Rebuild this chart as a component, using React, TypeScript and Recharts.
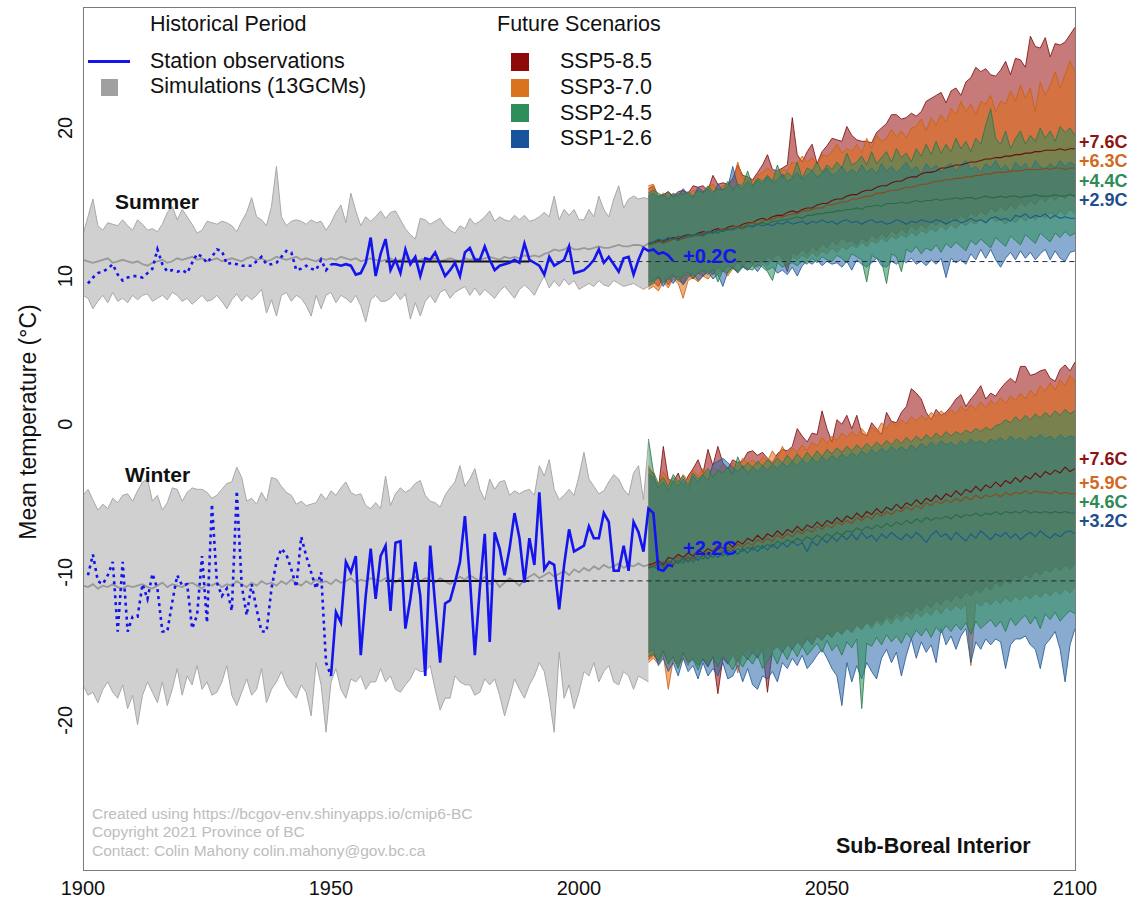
import React from 'react';
import { ComposedChart, Area, Line, XAxis, YAxis } from 'recharts';

const HIST_START = 1900;
const OBS_START = 1901;
const FUT_START = 2014;
const OBS_SOLID_FROM = 1950;
const NORMAL_FROM = 1961;
const NORMAL_TO = 1990;
const SUMMER_NORMAL = 10.98;
const WINTER_NORMAL = -10.58;

const X_TICKS = [1900, 1950, 2000, 2050, 2100];
const Y_TICKS = [-20, -10, 0, 10, 20];

// ---------- historical simulations, 1900-2014 ----------
const SUMMER_SIM_UPPER = [
  12.8, 14.0, 15.2, 13.4, 13.1, 13.6, 13.5, 13.4, 13.8, 13.4,
  13.1, 13.8, 13.5, 13.1, 13.2, 13.0, 13.5, 14.3, 14.7, 13.8,
  14.5, 14.0, 13.5, 12.9, 13.1, 13.7, 13.6, 13.5, 13.7, 13.6,
  13.4, 13.0, 13.7, 14.3, 15.3, 14.0, 13.8, 13.4, 14.7, 17.4,
  14.0, 13.4, 13.7, 13.8, 13.7, 13.5, 13.8, 13.6, 13.7, 13.1,
  13.6, 14.3, 14.8, 13.6, 15.6, 14.4, 13.4, 14.0, 13.7, 14.0,
  14.4,
  13.9, 14.3, 14.4, 13.8, 13.2, 12.8, 12.5, 13.9, 13.8, 13.5,
  13.7, 13.9, 13.4, 13.1, 12.9, 13.4, 13.2, 13.9, 13.5, 13.7,
  14.0, 14.4, 13.7, 14.0, 13.8, 13.7, 14.1, 13.8, 14.1, 13.7,
  13.8, 14.0, 14.3, 14.0, 15.4, 13.8, 14.5, 14.1, 14.5, 13.8,
  13.8, 14.5, 14.0, 15.4, 14.5, 14.0, 15.2, 16.1, 14.6, 15.2,
  15.4, 15.2, 15.3, 15.2,
];
const SUMMER_SIM_LOWER = [
  8.7, 8.5, 7.8, 8.3, 8.7, 8.2, 8.9, 8.3, 8.5, 8.2,
  8.7, 8.4, 8.7, 8.8, 8.3, 8.5, 8.7, 8.4, 8.9, 8.7,
  8.3, 8.5, 8.1, 8.4, 8.7, 8.3, 8.4, 8.7, 8.3, 7.8,
  8.4, 8.8, 8.3, 8.7, 8.4, 8.7, 9.1, 7.5, 8.4, 7.3,
  8.7, 8.9, 8.3, 8.7, 8.5, 8.0, 7.3, 8.7, 7.8, 8.7,
  8.9, 8.2, 8.7, 8.5, 8.2, 8.7, 8.0, 6.9, 8.4, 8.7,
  8.3,
  8.3, 8.5, 8.9, 8.4, 8.8, 7.1, 8.2, 7.3, 8.3, 8.7,
  8.2, 8.9, 9.1, 8.5, 8.9, 9.1, 9.3, 8.7, 9.2, 8.7,
  9.1, 8.8, 8.5, 9.0, 9.3, 8.9, 8.5, 9.1, 9.4, 9.1,
  8.7, 9.4, 10.0, 9.2, 9.7, 9.3, 9.8, 9.4, 9.7, 9.1,
  9.3, 9.5, 9.3, 9.7, 9.4, 9.3, 9.7, 9.5, 9.3, 9.4,
  9.5, 9.3, 9.1, 9.3,
];
const SUMMER_SIM_MEDIAN = [
  11.1, 11.0, 10.9, 11.0, 11.1, 11.2, 10.9, 11.0, 11.1, 11.0,
  10.9, 11.0, 10.8, 10.7, 10.9, 11.0, 11.1, 10.9, 11.0, 11.2,
  11.1, 11.2, 11.3, 11.1, 11.2, 11.0, 11.1, 11.2, 11.0, 11.1,
  11.2, 11.1, 11.0, 11.2, 11.3, 11.1, 11.2, 11.0, 11.1, 11.3,
  11.2, 11.1, 11.2, 11.3, 11.1, 11.2, 11.1, 11.0, 11.2, 11.1,
  11.2, 11.1, 11.3, 11.2, 11.1, 11.2, 11.0, 11.1, 11.2, 11.1,
  11.0, 11.1, 11.2, 11.0, 11.1, 11.2, 11.1, 11.0, 11.1, 11.2,
  11.1, 11.2, 11.0, 11.1, 11.2, 11.1, 11.0, 11.2, 11.1, 11.2,
  11.1, 11.2, 11.3, 11.2, 11.1, 11.3, 11.2, 11.3, 11.2, 11.4,
  11.3, 11.4, 11.3, 11.5, 11.6, 11.8, 11.7, 11.8, 12.0, 11.8,
  11.8, 11.9, 11.8, 11.9, 12.0, 11.9, 11.9, 12.0, 12.1, 12.0,
  12.0, 12.1, 12.1, 12.0, 12.2,
];
const WINTER_SIM_UPPER = [
  -4.8, -4.4, -5.1, -5.8, -5.4, -5.7, -5.0, -5.3, -4.8, -4.7,
  -5.2, -4.5, -3.9, -3.7, -5.2, -4.8, -5.8, -5.3, -4.3, -4.4,
  -5.2, -4.6, -4.3, -4.4, -4.4, -4.6, -5.0, -4.8, -4.4, -4.0,
  -3.9, -2.9, -3.6, -5.2, -5.0, -5.4, -4.6, -5.2, -3.6, -3.7,
  -4.2, -4.6, -4.8, -5.4, -5.2, -5.5, -5.4, -5.3, -4.7, -5.1,
  -4.5, -4.8, -4.3, -3.9, -4.6, -4.8, -4.7, -5.5, -5.7, -5.3,
  -5.7,
  -3.5, -5.5, -4.7, -4.3, -4.6, -4.4, -4.0, -3.8, -4.8, -5.2,
  -5.3, -5.6, -4.8, -4.3, -3.9, -2.8, -4.2, -3.7, -3.0, -4.4,
  -5.1, -3.7, -4.4, -3.9, -3.8, -4.8, -4.5, -4.7, -4.5, -4.4,
  -4.8, -2.8, -3.5, -2.4, -4.4, -5.1, -4.8, -4.4, -4.8, -3.5,
  -1.9, -3.7, -4.2, -4.7, -4.5, -3.9, -3.4, -3.7, -4.4, -4.8,
  -3.3, -2.8, -5.1, -1.2,
];
const WINTER_SIM_LOWER = [
  -17.6, -18.3, -18.1, -18.8, -17.9, -17.4, -18.1, -18.5, -17.6, -19.2,
  -18.3, -20.3, -18.3, -17.4, -18.1, -18.8, -17.4, -19.0, -17.9, -16.5,
  -18.3, -17.0, -17.6, -16.3, -17.9, -17.4, -18.3, -18.1, -17.4, -16.3,
  -18.3, -19.0, -18.1, -17.2, -18.3, -17.9, -16.5, -18.8, -17.9, -17.4,
  -16.7, -17.6, -18.1, -18.5, -17.6, -18.1, -19.7, -16.1, -17.6, -20.8,
  -17.4, -16.5, -17.9, -18.5, -17.2, -17.4, -17.0, -17.9, -17.4, -17.4,
  -16.5,
  -17.4, -17.0, -17.9, -18.1, -17.6, -17.2, -16.5, -16.7, -16.7, -16.3,
  -17.9, -19.3, -18.5, -18.5, -17.0, -17.4, -17.6, -17.6, -18.3, -18.1,
  -17.2, -17.6, -17.2, -18.3, -19.7, -18.5, -17.2, -17.9, -18.5, -17.6,
  -17.0, -16.1, -16.7, -18.5, -20.8, -15.4, -18.5, -17.6, -19.2, -18.1,
  -16.7, -17.0, -16.1, -17.4, -16.7, -16.3, -17.4, -17.6, -16.7, -17.0,
  -17.9, -17.0, -17.2, -17.4,
];
const WINTER_SIM_MEDIAN = [
  -10.9, -11.0, -10.8, -11.1, -10.9, -11.0, -10.8, -11.0, -11.1, -10.9,
  -11.0, -10.9, -10.8, -11.0, -11.1, -10.9, -10.7, -11.0, -10.8, -10.9,
  -11.0, -10.8, -10.7, -10.9, -11.1, -10.8, -10.9, -10.7, -11.0, -10.8,
  -10.9, -10.6, -10.8, -11.0, -10.7, -10.9, -10.6, -10.8, -10.7, -10.9,
  -10.6, -10.8, -10.5, -10.7, -10.9, -10.6, -10.8, -10.5, -10.7, -10.6,
  -10.8, -10.5, -10.7, -10.6, -10.4, -10.7, -10.5, -10.6, -10.4, -10.5,
  -10.6, -10.4, -10.5, -10.7, -10.4, -10.6, -10.5, -10.3, -10.6, -10.4,
  -10.5, -10.7, -10.4, -10.6, -10.8, -10.5, -10.3, -10.5, -10.2, -10.4,
  -10.6, -10.3, -10.8, -10.5, -11.0, -10.7, -10.4, -10.6, -10.9, -10.5,
  -10.3, -10.1, -10.4, -10.2, -10.0, -10.3, -10.1, -9.9, -10.2, -9.8,
  -10.0, -9.7, -9.9, -9.6, -9.8, -9.5, -9.7, -9.6, -9.4, -9.7,
  -9.5, -9.6, -9.4, -9.6, -9.5,
];

// ---------- station observations, 1901-2019 ----------
const SUMMER_OBS = [
  9.5, 9.9, 10.2, 10.3, 10.5, 10.8, 10.1, 9.7, 9.9, 10.0,
  10.0, 9.9, 10.2, 10.5, 11.8, 10.8, 10.3, 10.4, 10.3, 10.4,
  10.2, 10.9, 11.5, 11.3, 10.9, 11.3, 11.8, 11.7, 10.8, 10.9,
  10.8, 10.7, 10.7, 10.7, 11.0, 11.3, 10.8, 10.8, 10.9, 11.3,
  11.7, 11.6, 10.4, 10.5, 10.7, 10.5, 10.4, 11.1, 10.4, 10.8,
  10.8, 10.7, 10.8, 10.7, 10.1, 10.2, 10.9, 12.6, 10.0, 11.5,
  12.5, 10.4, 11.1, 10.2, 11.8, 10.8, 11.3, 10.0, 11.2, 11.1,
  11.6, 10.8, 10.0, 10.4, 10.9, 10.0, 11.6, 11.9, 11.1, 11.1,
  12.0, 11.1, 10.4, 10.7, 10.8, 10.9, 11.1, 10.9, 12.2, 11.1,
  10.9, 10.7, 10.1, 11.3, 10.7, 10.9, 11.1, 12.0, 10.2, 10.3,
  10.4, 10.7, 11.1, 11.8, 10.9, 11.3, 10.8, 10.3, 11.2, 11.3,
  10.1, 11.1, 11.9, 11.7, 11.8, 11.5, 11.6, 11.4, 11.0,
];
const WINTER_OBS = [
  -10.2, -8.8, -10.6, -10.8, -10.2, -9.3, -14.0, -9.3, -14.0, -13.0,
  -13.0, -10.8, -11.8, -10.1, -11.1, -14.0, -14.0, -12.0, -10.2, -10.9,
  -10.8, -13.8, -12.9, -8.9, -13.4, -5.4, -10.7, -11.6, -11.1, -12.6,
  -4.5, -10.9, -12.9, -10.8, -12.5, -14.0, -14.0, -11.1, -9.3, -8.4,
  -8.8, -9.8, -11.0, -7.6, -8.9, -10.0, -11.1, -10.0, -16.1, -17.0,
  -12.7, -13.4, -9.3, -10.0, -8.9, -15.6, -11.6, -8.4, -11.8, -8.9,
  -8.2, -12.6, -8.0, -7.9, -13.8, -11.8, -9.3, -11.6, -17.0, -8.2,
  -12.2, -16.1, -12.1, -11.9, -10.7, -9.3, -6.2, -10.4, -15.6, -11.1,
  -7.4, -14.7, -7.3, -8.4, -10.2, -8.4, -6.0, -7.7, -10.7, -7.7,
  -9.5, -4.6, -9.8, -9.3, -9.5, -12.5, -9.5, -7.1, -8.6, -8.4,
  -8.2, -6.9, -7.7, -7.7, -6.0, -6.6, -9.9, -9.9, -8.2, -9.9,
  -6.6, -7.3, -8.6, -5.7, -6.0, -9.8, -9.9, -9.5, -9.6,
];

// ---------- future projections, 2014-2100 ----------
const SUMMER_SSP585_UPPER = [
  15.9,
  16.1, 15.4, 15.5, 15.7, 15.4, 15.7, 15.8, 15.6, 16.1, 16.0,
  16.1, 15.8, 16.8, 16.2, 16.3, 16.2, 16.6, 17.5, 16.8, 16.7,
  16.5, 17.0, 17.5, 18.2, 17.2, 17.1, 17.3, 17.5, 20.7, 18.2,
  17.7, 18.4, 18.9, 17.6, 18.4, 18.8, 19.3, 19.2, 19.1, 20.1,
  19.5, 19.2, 19.1, 19.1, 19.0, 19.7, 20.0, 20.3, 20.9, 20.9,
  20.6, 20.7, 21.0, 20.8, 21.1, 21.8, 22.0, 22.2, 22.4, 21.7,
  22.5, 22.7, 22.2, 23.1, 23.4, 24.1, 23.8, 24.0, 23.6, 23.5,
  23.9, 24.5, 23.6, 24.7, 24.6, 24.1, 26.2, 25.5, 25.4, 26.1,
  24.8, 25.7, 25.6, 25.8, 26.3, 26.8,
];
const SUMMER_SSP585_LOWER = [
  9.4,
  9.6, 9.3, 9.9, 9.4, 10.0, 9.7, 9.5, 10.1, 9.8, 10.2,
  10.0, 10.4, 10.1, 10.6, 10.3, 10.7, 10.5, 10.9, 10.6, 11.0,
  10.8, 11.2, 10.9, 11.3, 11.1, 11.5, 11.2, 10.3, 11.6, 11.4,
  11.8, 11.5, 12.0, 11.7, 12.2, 11.9, 12.4, 12.1, 12.6, 12.3,
  12.4, 12.1, 12.6, 12.3, 12.8, 12.5, 12.9, 12.6, 13.1, 12.8,
  13.2, 12.9, 13.4, 13.1, 13.5, 13.2, 13.7, 13.4, 13.8, 13.5,
  14.0, 13.7, 14.1, 13.8, 14.3, 14.0, 14.4, 14.1, 14.6, 14.3,
  14.7, 14.4, 14.8, 14.5, 15.0, 14.7, 15.1, 14.8, 15.3, 15.0,
  15.4, 15.1, 15.5, 15.2, 15.6, 15.3,
];
const SUMMER_SSP585_MEDIAN = [
  12.2,
  12.3, 12.4, 12.3, 12.5, 12.6, 12.5, 12.7, 12.8, 12.7, 12.9,
  13.0, 12.9, 13.1, 13.2, 13.1, 13.3, 13.4, 13.3, 13.5, 13.6,
  13.6, 13.8, 13.9, 13.8, 14.0, 14.1, 14.1, 14.3, 14.4, 14.3,
  14.5, 14.6, 14.6, 14.8, 14.9, 14.9, 15.1, 15.2, 15.2, 15.4,
  15.5, 15.5, 15.7, 15.8, 15.8, 16.0, 16.1, 16.1, 16.3, 16.4,
  16.4, 16.6, 16.7, 16.7, 16.9, 17.0, 17.0, 17.1, 17.3, 17.3,
  17.4, 17.5, 17.5, 17.6, 17.7, 17.7, 17.8, 17.9, 17.9, 18.0,
  18.0, 18.1, 18.1, 18.2, 18.2, 18.3, 18.3, 18.4, 18.4, 18.5,
  18.5, 18.5, 18.6, 18.5, 18.6, 18.6,
];
const SUMMER_SSP370_UPPER = [
  16.1,
  16.2, 15.3, 15.6, 15.4, 15.5, 15.4, 15.7, 15.5, 15.8, 15.7,
  15.7, 16.0, 16.2, 15.8, 16.1, 16.2, 16.4, 17.7, 16.6, 16.5,
  16.4, 16.8, 17.0, 17.3, 17.0, 16.8, 17.2, 17.1, 17.7, 17.6,
  18.1, 17.7, 18.0, 17.5, 18.2, 18.1, 18.4, 18.9, 18.3, 18.6,
  18.4, 18.9, 18.3, 19.3, 18.6, 19.5, 19.1, 19.3, 19.9, 19.4,
  19.8, 19.3, 20.0, 20.1, 20.6, 19.8, 20.7, 20.2, 20.9, 20.4,
  21.3, 20.9, 21.8, 21.1, 21.6, 20.9, 21.8, 21.6, 22.2, 21.1,
  21.8, 21.6, 22.5, 21.8, 22.9, 22.0, 22.7, 21.1, 23.1, 22.2,
  22.9, 23.8, 22.7, 23.6, 24.5, 23.8,
];
const SUMMER_SSP370_LOWER = [
  9.1,
  9.3, 9.0, 9.6, 9.2, 9.8, 9.5, 8.5, 9.7, 9.9, 9.6,
  10.0, 9.8, 10.2, 10.1, 10.4, 10.0, 10.5, 10.3, 10.7, 10.4,
  10.8, 10.6, 11.0, 10.7, 11.1, 10.9, 11.2, 10.6, 11.3, 11.1,
  11.4, 11.2, 11.6, 11.3, 11.7, 11.5, 11.9, 11.6, 12.0, 11.8,
  12.1, 11.9, 12.3, 12.0, 12.4, 12.2, 12.6, 12.3, 12.7, 12.5,
  12.8, 12.6, 13.0, 12.7, 13.1, 12.9, 13.2, 13.0, 13.4, 13.1,
  13.5, 13.2, 13.6, 13.4, 13.7, 13.5, 13.9, 13.6, 14.0, 13.7,
  13.8, 13.5, 13.9, 13.6, 14.0, 13.7, 14.1, 13.8, 14.2, 13.9,
  14.3, 14.0, 14.4, 14.1, 14.5, 14.2,
];
const SUMMER_SSP370_MEDIAN = [
  12.1,
  12.2, 12.3, 12.4, 12.3, 12.5, 12.6, 12.5, 12.7, 12.8, 12.7,
  12.9, 13.0, 12.9, 13.1, 13.2, 13.1, 13.3, 13.4, 13.3, 13.5,
  13.6, 13.5, 13.7, 13.8, 13.8, 14.0, 14.0, 14.1, 14.2, 14.2,
  14.4, 14.4, 14.5, 14.6, 14.6, 14.8, 14.8, 14.9, 15.0, 15.0,
  15.2, 15.2, 15.3, 15.4, 15.4, 15.6, 15.6, 15.7, 15.8, 15.8,
  15.9, 16.0, 16.0, 16.1, 16.2, 16.2, 16.3, 16.4, 16.4, 16.5,
  16.5, 16.6, 16.6, 16.7, 16.7, 16.8, 16.8, 16.9, 16.9, 17.0,
  17.0, 17.0, 17.1, 17.1, 17.1, 17.2, 17.2, 17.2, 17.2, 17.3,
  17.2, 17.3, 17.3, 17.2, 17.3, 17.3,
];
const SUMMER_SSP245_UPPER = [
  15.6,
  15.8, 15.6, 15.4, 15.7, 15.3, 15.6, 15.5, 15.7, 15.4, 15.8,
  15.6, 16.1, 15.7, 15.9, 15.8, 16.4, 15.8, 16.2, 16.1, 17.1,
  16.1, 16.6, 16.4, 16.8, 16.4, 17.5, 16.6, 17.0, 16.7, 17.7,
  16.6, 17.3, 17.1, 17.7, 17.0, 17.5, 17.2, 17.7, 17.3, 18.3,
  17.5, 17.7, 18.1, 17.5, 18.4, 17.6, 18.0, 18.4, 17.7, 18.6,
  18.0, 18.3, 17.7, 18.6, 18.1, 18.9, 18.2, 19.1, 18.3, 18.9,
  18.4, 19.3, 18.6, 19.1, 18.4, 19.3, 18.9, 20.2, 21.3, 19.3,
  18.9, 19.8, 18.6, 19.3, 19.8, 18.9, 19.5, 19.1, 20.0, 19.3,
  19.8, 19.1, 20.1, 19.7, 20.0, 19.5,
];
const SUMMER_SSP245_LOWER = [
  9.3,
  9.5, 10.0, 9.6, 9.8, 10.1, 9.7, 10.0, 10.3, 9.9, 10.2,
  10.4, 10.1, 10.5, 9.6, 10.4, 10.2, 10.6, 10.3, 10.7, 10.5,
  10.4, 10.8, 10.6, 10.3, 9.7, 10.9, 10.6, 10.8, 10.9, 10.7,
  11.0, 10.8, 11.2, 10.9, 11.3, 11.1, 11.0, 11.4, 11.2, 10.9,
  11.5, 11.3, 11.1, 9.6, 11.4, 11.2, 11.0, 9.5, 11.5, 11.3,
  10.3, 11.8, 11.6, 12.0, 11.5, 11.9, 11.7, 12.1, 11.6, 12.2,
  11.9, 12.3, 12.0, 11.7, 12.4, 12.1, 12.5, 12.2, 11.9, 12.6,
  12.3, 12.0, 12.7, 12.4, 12.1, 12.8, 12.5, 12.2, 12.9, 12.6,
  12.3, 12.9, 12.6, 13.0, 12.7, 12.9,
];
const SUMMER_SSP245_MEDIAN = [
  12.1,
  12.2, 12.3, 12.2, 12.4, 12.5, 12.4, 12.6, 12.6, 12.7, 12.8,
  12.7, 12.9, 13.0, 12.9, 13.1, 13.1, 13.2, 13.3, 13.2, 13.4,
  13.4, 13.5, 13.6, 13.5, 13.7, 13.7, 13.8, 13.8, 13.9, 14.0,
  13.9, 14.1, 14.1, 14.2, 14.2, 14.3, 14.3, 14.4, 14.4, 14.5,
  14.5, 14.6, 14.5, 14.7, 14.7, 14.8, 14.7, 14.9, 14.9, 14.9,
  15.0, 14.9, 15.0, 15.1, 15.0, 15.1, 15.1, 15.2, 15.1, 15.2,
  15.2, 15.3, 15.2, 15.3, 15.3, 15.2, 15.3, 15.4, 15.3, 15.3,
  15.4, 15.3, 15.4, 15.4, 15.3, 15.4, 15.4, 15.5, 15.4, 15.4,
  15.4, 15.5, 15.4, 15.4, 15.5, 15.4,
];
const SUMMER_SSP126_UPPER = [
  15.4,
  15.6, 15.3, 15.5, 15.2, 15.6, 15.4, 15.9, 15.5, 15.3, 16.0,
  15.7, 15.9, 15.5, 16.2, 15.8, 16.0, 17.4, 16.1, 15.9, 16.4,
  16.0, 16.5, 16.2, 16.7, 16.3, 16.5, 16.9, 16.4, 16.6, 17.0,
  16.5, 16.8, 17.1, 16.7, 16.9, 17.3, 16.8, 17.0, 17.4, 16.9,
  17.2, 16.9, 17.5, 17.0, 17.3, 16.9, 17.6, 17.1, 17.4, 17.0,
  17.3, 17.7, 17.1, 17.4, 16.9, 17.6, 17.2, 17.5, 17.0, 17.4,
  17.6, 17.1, 17.5, 17.8, 17.2, 17.4, 17.0, 17.6, 17.3, 17.8,
  17.2, 17.5, 17.0, 17.7, 17.3, 17.6, 17.1, 17.8, 17.4, 17.2,
  17.6, 17.3, 17.8, 17.4, 17.7, 17.5,
];
const SUMMER_SSP126_LOWER = [
  9.6,
  9.7, 9.9, 9.3, 9.9, 9.5, 10.0, 9.4, 9.9, 10.2, 9.7,
  10.0, 10.3, 9.8, 10.1, 9.3, 10.3, 10.6, 10.2, 10.6, 10.4,
  10.7, 10.3, 10.8, 10.4, 10.6, 10.2, 10.4, 10.1, 10.6, 10.0,
  10.7, 11.0, 10.8, 11.1, 10.7, 11.0, 10.8, 10.9, 10.6, 11.0,
  10.4, 11.1, 10.8, 10.6, 10.9, 11.2, 10.7, 10.6, 11.0, 10.8,
  11.1, 10.9, 11.2, 10.8, 11.0, 10.7, 11.1, 10.8, 11.2, 9.9,
  11.2, 10.9, 11.1, 10.8, 11.5, 11.1, 11.8, 11.2, 11.8, 11.1,
  10.6, 11.2, 11.6, 11.1, 11.7, 11.2, 11.6, 11.1, 11.5, 11.8,
  11.1, 11.7, 11.2, 11.0, 11.6, 11.7,
];
const SUMMER_SSP126_MEDIAN = [
  12.2,
  12.3, 12.5, 12.4, 12.6, 12.5, 12.7, 12.6, 12.8, 12.7, 12.9,
  12.8, 13.0, 12.9, 13.1, 13.0, 13.2, 13.1, 13.3, 13.2, 13.4,
  13.3, 13.5, 13.4, 13.5, 13.4, 13.6, 13.5, 13.7, 13.5, 13.6,
  13.7, 13.5, 13.7, 13.6, 13.8, 13.6, 13.7, 13.5, 13.7, 13.8,
  13.6, 13.7, 13.5, 13.7, 13.8, 13.6, 13.7, 13.5, 13.6, 13.8,
  13.7, 13.5, 13.7, 13.6, 13.8, 13.7, 13.6, 13.8, 13.7, 13.5,
  13.7, 13.8, 13.6, 13.7, 13.9, 13.7, 13.8, 13.6, 13.9, 14.0,
  13.8, 13.9, 13.7, 14.1, 14.0, 14.2, 13.9, 14.1, 14.0, 14.2,
  13.9, 14.1, 13.9, 14.0, 13.9, 13.9,
];

const WINTER_SSP585_UPPER = [
  -3.0,
  -3.3, -4.4, -1.5, -3.7, -3.9, -3.3, -4.2, -3.5, -3.0, -2.4,
  -3.3, -1.7, -2.8, -1.5, -2.6, -3.0, -2.4, -2.6, -2.5, -1.9,
  -1.8, -2.1, -1.9, -2.3, -2.6, -2.0, -1.7, -1.8, -1.5, -0.3,
  -0.8, -1.2, -0.6, -0.7, 0.9, -0.3, -1.2, 0.3, 0.0, 0.6,
  -0.3, 0.6, -0.6, -0.8, 0.1, -0.3, -0.7, 0.8, 0.2, 0.1,
  0.8, 1.2, 2.4, 2.1, 1.7, 0.8, 0.3, 1.0, 0.6, 0.8,
  1.2, 1.7, 2.0, 1.2, 1.7, 2.1, 2.6, 1.7, 2.1, 1.9,
  2.4, 2.8, 3.1, 2.8, 3.9, 3.9, 3.3, 3.4, 3.6, 3.7,
  3.1, 2.9, 3.7, 4.0, 3.6, 4.2,
];
const WINTER_SSP585_LOWER = [
  -15.9,
  -15.6, -16.0, -15.4, -16.1, -15.7, -16.2, -15.5, -16.0, -15.8, -16.3,
  -15.9, -16.4, -15.7, -18.2, -15.8, -16.2, -15.6, -16.0, -15.5, -15.9,
  -15.4, -15.8, -15.2, -18.1, -15.3, -15.0, -15.4, -14.9, -15.2, -14.7,
  -15.0, -14.5, -14.9, -14.3, -14.6, -14.1, -14.4, -13.9, -14.2, -13.7,
  -14.0, -13.5, -13.8, -13.3, -13.6, -13.1, -13.4, -12.9, -13.2, -12.7,
  -13.0, -12.5, -12.8, -12.3, -12.6, -12.1, -12.4, -11.9, -12.2, -11.7,
  -12.0, -11.5, -11.8, -11.3, -11.6, -11.1, -11.4, -10.9, -11.2, -10.7,
  -11.0, -10.5, -10.8, -10.3, -10.6, -10.1, -10.4, -9.9, -10.2, -9.8,
  -10.0, -9.6, -9.9, -9.5, -9.8, -9.4,
];
const WINTER_SSP585_MEDIAN = [
  -9.5,
  -9.4, -9.2, -9.5, -9.0, -9.1, -8.8, -9.0, -8.7, -8.9, -8.5,
  -8.7, -8.4, -8.6, -8.2, -8.4, -8.0, -8.3, -7.9, -8.1, -7.7,
  -7.9, -7.5, -7.8, -7.4, -7.6, -7.2, -7.5, -7.1, -7.3, -6.9,
  -7.2, -6.8, -7.0, -6.6, -6.9, -6.5, -6.7, -6.3, -6.6, -6.2,
  -6.4, -6.0, -6.3, -5.9, -6.1, -5.7, -6.0, -5.6, -5.8, -5.4,
  -5.7, -5.3, -5.5, -5.1, -5.4, -5.0, -5.2, -4.8, -5.1, -4.7,
  -4.9, -4.5, -4.8, -4.4, -4.6, -4.2, -4.5, -4.1, -4.3, -3.9,
  -4.2, -3.8, -4.0, -3.6, -3.9, -3.5, -3.7, -3.3, -3.6, -3.2,
  -3.4, -3.1, -3.3, -2.9, -3.2, -3.0,
];
const WINTER_SSP370_UPPER = [
  -2.8,
  -3.5, -4.1, -3.2, -3.9, -3.6, -4.0, -3.4, -3.8, -3.1, -3.5,
  -3.0, -3.4, -2.9, -3.2, -2.7, -3.1, -2.6, -2.9, -2.3, -2.6,
  -2.4, -2.7, -2.2, -2.5, -1.8, -2.3, -1.5, -2.1, -1.6, -1.9,
  -1.4, -1.8, -1.2, -1.5, -0.9, -1.3, -0.8, -1.1, -0.6, -0.9,
  -0.5, -0.8, -0.3, -0.7, -0.2, -0.5, 0.1, -0.3, 0.2, -0.1,
  0.3, 0.0, 0.5, 0.2, 0.6, 0.3, 0.8, 0.5, 0.9, 0.6,
  1.0, 0.7, 1.2, 0.9, 1.3, 1.0, 1.5, 1.1, 1.6, 1.3,
  1.8, 1.4, 1.9, 1.6, 2.1, 1.7, 2.3, 1.9, 2.6, 2.2,
  2.8, 2.3, 3.0, 2.6, 3.3, 2.9,
];
const WINTER_SSP370_LOWER = [
  -16.1,
  -15.8, -16.2, -15.6, -17.9, -15.9, -16.4, -15.7, -16.3, -15.5, -16.0,
  -15.6, -16.1, -15.4, -15.9, -15.3, -15.8, -15.2, -16.8, -15.4, -15.1,
  -15.5, -15.0, -15.4, -14.9, -15.3, -14.8, -15.1, -14.6, -15.0, -14.5,
  -14.8, -14.3, -14.7, -14.2, -14.5, -14.0, -14.4, -13.9, -14.2, -13.8,
  -14.1, -13.6, -13.9, -13.4, -13.8, -13.3, -13.6, -13.1, -13.5, -13.0,
  -13.3, -12.9, -13.2, -12.7, -13.0, -12.6, -12.9, -12.4, -12.8, -12.3,
  -12.6, -12.2, -12.5, -12.1, -16.3, -12.0, -12.3, -11.9, -12.2, -11.8,
  -12.1, -11.7, -12.0, -11.6, -11.9, -11.5, -11.8, -11.4, -11.7, -11.3,
  -11.6, -11.2, -11.5, -11.1, -11.4, -11.0,
];
const WINTER_SSP370_MEDIAN = [
  -9.6,
  -9.5, -9.3, -9.6, -9.2, -9.4, -9.0, -9.2, -8.9, -9.1, -8.7,
  -8.9, -8.6, -8.8, -8.4, -8.6, -8.3, -8.5, -8.1, -8.3, -8.0,
  -8.2, -7.8, -8.0, -7.7, -7.9, -7.5, -7.7, -7.4, -7.6, -7.2,
  -7.4, -7.1, -7.3, -6.9, -7.1, -6.8, -7.0, -6.6, -6.8, -6.5,
  -6.7, -6.3, -6.5, -6.2, -6.4, -6.0, -6.2, -5.9, -6.1, -5.8,
  -5.9, -5.6, -5.8, -5.5, -5.7, -5.3, -5.5, -5.2, -5.4, -5.1,
  -5.3, -5.0, -5.2, -4.9, -5.1, -4.8, -5.0, -4.8, -4.9, -4.7,
  -4.9, -4.6, -4.8, -4.6, -4.7, -4.5, -4.7, -4.5, -4.6, -4.6,
  -4.7, -4.5, -4.7, -4.6, -4.7, -4.7,
];
const WINTER_SSP245_UPPER = [
  -1.0,
  -3.2, -4.0, -3.6, -4.2, -3.4, -3.9, -3.5, -4.1, -3.3, -3.7,
  -3.4, -3.0, -3.6, -3.1, -3.3, -2.9, -3.4, -2.2, -3.0, -2.6,
  -2.9, -2.5, -2.8, -2.4, -2.7, -2.3, -2.6, -2.1, -2.5, -2.0,
  -2.4, -1.9, -2.3, -1.8, -2.2, -1.7, -2.0, -1.6, -1.9, -1.5,
  -1.8, -1.4, -1.7, -1.3, -1.6, -1.2, -1.5, -1.1, -1.4, -1.0,
  -1.3, -0.9, -1.2, -0.8, -1.1, -0.7, -1.0, -0.6, -0.9, -0.5,
  -0.8, -0.5, -0.7, -0.4, -0.6, -0.3, -0.5, -0.2, -0.4, -0.1,
  0.0, 0.3, 0.1, 0.5, 0.2, 0.6, 0.3, 0.7, 0.4, 0.8,
  0.5, 0.9, 0.6, 1.0, 0.7, 0.9,
];
const WINTER_SSP245_LOWER = [
  -15.7,
  -15.5, -16.0, -15.3, -16.2, -15.7, -16.5, -15.4, -16.1, -15.9, -16.6,
  -15.8, -16.3, -15.7, -16.4, -15.6, -16.1, -16.6, -15.9, -16.4, -15.8,
  -16.2, -15.6, -16.5, -16.0, -15.5, -16.2, -15.3, -15.9, -15.1, -15.7,
  -15.0, -15.6, -15.2, -14.8, -15.4, -14.6, -15.3, -14.9, -15.6, -14.7,
  -15.1, -14.5, -19.2, -14.8, -15.0, -14.4, -14.9, -14.2, -14.7, -14.3,
  -14.8, -14.1, -14.5, -13.9, -14.3, -13.8, -14.4, -13.7, -14.1, -13.6,
  -14.0, -13.5, -13.9, -13.4, -14.2, -13.3, -13.8, -13.5, -13.2, -13.7,
  -13.3, -14.0, -13.1, -13.6, -13.2, -12.9, -13.5, -13.0, -13.8, -12.8,
  -13.2, -12.7, -13.3, -12.9, -12.6, -12.8,
];
const WINTER_SSP245_MEDIAN = [
  -9.7,
  -9.6, -9.4, -9.7, -9.3, -9.5, -9.2, -9.4, -9.0, -9.3, -8.9,
  -9.1, -8.8, -9.0, -8.7, -8.9, -8.5, -8.7, -8.4, -8.6, -8.3,
  -8.5, -8.2, -8.4, -8.1, -8.3, -7.9, -8.1, -7.8, -8.0, -7.7,
  -7.9, -7.6, -7.8, -7.5, -7.7, -7.4, -7.6, -7.3, -7.5, -7.2,
  -7.3, -7.0, -7.2, -6.9, -7.1, -6.8, -7.0, -6.7, -6.9, -6.6,
  -6.8, -6.5, -6.7, -6.4, -6.6, -6.3, -6.5, -6.3, -6.4, -6.2,
  -6.4, -6.1, -6.3, -6.1, -6.2, -6.0, -6.2, -6.0, -6.1, -5.9,
  -6.1, -5.9, -6.0, -5.9, -6.0, -5.8, -6.0, -5.9, -6.0, -5.9,
  -6.0, -5.9, -6.0, -5.9, -6.0, -6.0,
];
const WINTER_SSP126_UPPER = [
  -3.4,
  -3.6, -4.3, -3.9, -4.5, -3.8, -4.2, -3.7, -4.4, -3.5, -3.9,
  -3.4, -3.8, -2.7, -2.5, -2.3, -2.6, -2.9, -3.2, -2.8, -3.3,
  -2.9, -3.2, -2.8, -3.1, -2.7, -3.0, -2.6, -2.9, -2.5, -2.8,
  -2.4, -2.7, -2.3, -2.6, -2.2, -2.5, -2.1, -2.4, -2.0, -2.3,
  -1.9, -2.2, -1.8, -2.1, -1.7, -2.0, -1.6, -1.9, -1.5, -1.8,
  -1.5, -1.8, -1.4, -1.7, -1.3, -1.6, -1.2, -1.5, -1.1, -1.4,
  -1.2, -1.5, -1.1, -1.4, -1.0, -1.3, -1.1, -1.4, -1.0, -1.2,
  -0.9, -1.2, -0.8, -1.1, -0.9, -1.2, -0.8, -1.0, -0.7, -1.0,
  -0.8, -1.1, -0.7, -1.0, -0.8, -0.9,
];
const WINTER_SSP126_LOWER = [
  -15.4,
  -15.2, -16.3, -15.8, -16.7, -16.1, -17.0, -15.8, -16.7, -16.3, -17.2,
  -16.1, -17.0, -16.5, -17.0, -16.1, -17.2, -17.0, -16.3, -17.4, -16.5,
  -17.6, -17.9, -17.0, -17.2, -16.7, -17.4, -16.1, -16.5, -15.8, -16.3,
  -15.6, -16.5, -16.1, -15.6, -15.2, -15.8, -16.5, -17.0, -19.0, -16.1,
  -17.4, -16.3, -17.2, -16.1, -16.7, -17.2, -15.8, -15.2, -16.1, -15.4,
  -17.0, -15.6, -14.5, -15.8, -14.7, -15.4, -14.9, -16.1, -13.8, -14.9,
  -14.3, -15.2, -14.3, -13.8, -16.1, -14.7, -15.2, -14.5, -14.9, -14.5,
  -14.7, -16.5, -14.9, -14.5, -14.5, -14.3, -14.9, -15.2, -16.5, -14.9,
  -14.5, -14.0, -15.2, -17.4, -14.9, -13.8,
];
const WINTER_SSP126_MEDIAN = [
  -9.7,
  -9.6, -9.8, -9.3, -9.5, -9.1, -9.4, -9.0, -9.3, -8.9, -9.2,
  -8.8, -9.1, -8.7, -9.0, -8.6, -8.9, -8.5, -8.8, -8.4, -8.7,
  -8.3, -8.6, -8.2, -8.5, -8.1, -8.4, -8.0, -8.3, -7.9, -8.2,
  -8.0, -8.6, -7.9, -8.2, -7.7, -8.0, -7.6, -7.9, -7.5, -7.8,
  -7.4, -7.8, -7.3, -7.7, -7.5, -7.9, -7.4, -7.7, -7.3, -7.6,
  -7.8, -7.4, -7.7, -7.3, -7.6, -8.0, -7.5, -7.2, -7.6, -7.4,
  -7.8, -7.3, -7.6, -7.9, -7.4, -7.7, -7.2, -7.5, -7.8, -7.4,
  -7.6, -7.3, -7.7, -7.4, -7.8, -7.5, -7.3, -7.6, -7.2, -7.5,
  -7.7, -7.4, -7.6, -7.3, -7.2, -7.4,
];

// drawing order: later ones sit on top
const SCENARIOS = [
  { key: 'ssp585', fill: '#990c0c', stroke: '#7a0a0a', median: '#6a1010' },
  { key: 'ssp370', fill: '#e06c14', stroke: '#c8600f', median: '#8a4a18' },
  { key: 'ssp126', fill: '#2a66aa', stroke: '#1f5590', median: '#1a5a8a' },
  { key: 'ssp245', fill: '#2e8e5a', stroke: '#24784a', median: '#2a6a48' },
];

const FUTURE = {
  summer: {
    ssp585: [SUMMER_SSP585_LOWER, SUMMER_SSP585_UPPER, SUMMER_SSP585_MEDIAN],
    ssp370: [SUMMER_SSP370_LOWER, SUMMER_SSP370_UPPER, SUMMER_SSP370_MEDIAN],
    ssp245: [SUMMER_SSP245_LOWER, SUMMER_SSP245_UPPER, SUMMER_SSP245_MEDIAN],
    ssp126: [SUMMER_SSP126_LOWER, SUMMER_SSP126_UPPER, SUMMER_SSP126_MEDIAN],
  },
  winter: {
    ssp585: [WINTER_SSP585_LOWER, WINTER_SSP585_UPPER, WINTER_SSP585_MEDIAN],
    ssp370: [WINTER_SSP370_LOWER, WINTER_SSP370_UPPER, WINTER_SSP370_MEDIAN],
    ssp245: [WINTER_SSP245_LOWER, WINTER_SSP245_UPPER, WINTER_SSP245_MEDIAN],
    ssp126: [WINTER_SSP126_LOWER, WINTER_SSP126_UPPER, WINTER_SSP126_MEDIAN],
  },
};

const rows: any[] = [];
for (let year = 1900; year <= 2100; year++) {
  const r: any = { year };
  const h = year - HIST_START;
  if (h >= 0 && h < SUMMER_SIM_UPPER.length) {
    r.sHist = [SUMMER_SIM_LOWER[h], SUMMER_SIM_UPPER[h]];
    r.sHistMed = SUMMER_SIM_MEDIAN[h];
    r.wHist = [WINTER_SIM_LOWER[h], WINTER_SIM_UPPER[h]];
    r.wHistMed = WINTER_SIM_MEDIAN[h];
  }
  const o = year - OBS_START;
  if (o >= 0 && o < SUMMER_OBS.length) {
    if (year <= OBS_SOLID_FROM) {
      r.sObsDot = SUMMER_OBS[o];
      r.wObsDot = WINTER_OBS[o];
    }
    if (year >= OBS_SOLID_FROM) {
      r.sObs = SUMMER_OBS[o];
      r.wObs = WINTER_OBS[o];
    }
  }
  if (year >= NORMAL_FROM && year <= NORMAL_TO) {
    r.sNorm = SUMMER_NORMAL;
    r.wNorm = WINTER_NORMAL;
  }
  if (year >= NORMAL_TO) {
    r.sNormDash = SUMMER_NORMAL;
    r.wNormDash = WINTER_NORMAL;
  }
  const f = year - FUT_START;
  if (f >= 0) {
    (['summer', 'winter'] as const).forEach((season) => {
      const p = season === 'summer' ? 's' : 'w';
      SCENARIOS.forEach((s) => {
        const [lo, hi, med] = (FUTURE as any)[season][s.key];
        r[p + s.key] = [lo[f], hi[f]];
        r[p + s.key + 'Med'] = med[f];
      });
    });
  }
  rows.push(r);
}

const FONT = '"Liberation Sans", Arial, Helvetica, sans-serif';
const OBS_BLUE = '#1414ee';

const XTick = (props: any) => (
  <text x={props.x} y={props.y + 10} textAnchor="middle" dominantBaseline="central" fontSize={20} fill="#111" fontFamily={FONT}>
    {props.payload.value}
  </text>
);
const YTick = (props: any) => {
  const cx = props.x - 10;
  return (
    <text x={cx} y={props.y} transform={`rotate(-90, ${cx}, ${props.y})`} textAnchor="middle" dominantBaseline="central" fontSize={20} fill="#111" fontFamily={FONT}>
      {props.payload.value}
    </text>
  );
};

const seasonSeries = (p: string) => {
  const out: any[] = [];
  out.push(
    <Area key={p + 'hist'} type="linear" dataKey={p + 'Hist'} fill="#d0d0d0" fillOpacity={1} stroke="#a8a8a8" strokeWidth={1} isAnimationActive={false} dot={false} activeDot={false} />
  );
  out.push(
    <Line key={p + 'histmed'} type="linear" dataKey={p + 'HistMed'} stroke="#999" strokeWidth={1.8} isAnimationActive={false} dot={false} activeDot={false} />
  );
  SCENARIOS.forEach((s) => {
    out.push(
      <Area key={p + s.key} type="linear" dataKey={p + s.key} fill={s.fill} fillOpacity={0.55} stroke={s.stroke} strokeOpacity={0.9} strokeWidth={0.9} isAnimationActive={false} dot={false} activeDot={false} />
    );
    out.push(
      <Line key={p + s.key + 'med'} type="linear" dataKey={p + s.key + 'Med'} stroke={s.median} strokeWidth={1.1} isAnimationActive={false} dot={false} activeDot={false} />
    );
  });
  out.push(
    <Line key={p + 'norm'} type="linear" dataKey={p + 'Norm'} stroke="#111" strokeWidth={2} isAnimationActive={false} dot={false} activeDot={false} />
  );
  out.push(
    <Line key={p + 'normdash'} type="linear" dataKey={p + 'NormDash'} stroke="#222244" strokeWidth={1} strokeDasharray="5 4" isAnimationActive={false} dot={false} activeDot={false} />
  );
  out.push(
    <Line key={p + 'obsdot'} type="linear" dataKey={p + 'ObsDot'} stroke={OBS_BLUE} strokeWidth={2.6} strokeDasharray="3 4" isAnimationActive={false} dot={false} activeDot={false} />
  );
  out.push(
    <Line key={p + 'obs'} type="linear" dataKey={p + 'Obs'} stroke={OBS_BLUE} strokeWidth={2.6} isAnimationActive={false} dot={false} activeDot={false} />
  );
  return out;
};

const txt = (left: number, cy: number, text: string, style: any = {}) => {
  const fs = style.fontSize || 20;
  return (
    <div style={{ position: 'absolute', left, top: cy - fs * 0.6, height: fs * 1.2, lineHeight: `${fs * 1.2}px`, whiteSpace: 'nowrap', fontFamily: FONT, ...style }}>
      {text}
    </div>
  );
};

const LEGEND_SWATCHES = [
  { name: 'SSP5-8.5', color: '#8e0a0a' },
  { name: 'SSP3-7.0', color: '#d8731e' },
  { name: 'SSP2-4.5', color: '#2e8e5a' },
  { name: 'SSP1-2.6', color: '#19539a' },
];
const SUMMER_CHANGE = [
  { text: '+7.6C', color: '#8b1414', y: 143 },
  { text: '+6.3C', color: '#d2691e', y: 162 },
  { text: '+4.4C', color: '#2e8b57', y: 182 },
  { text: '+2.9C', color: '#1f4e8c', y: 201 },
];
const WINTER_CHANGE = [
  { text: '+7.6C', color: '#8b1414', y: 460 },
  { text: '+5.9C', color: '#d2691e', y: 484 },
  { text: '+4.6C', color: '#2e8b57', y: 503 },
  { text: '+3.2C', color: '#1f4e8c', y: 522 },
];

export default function App() {
  return (
    <div style={{ position: 'absolute', left: 0, top: 0, width: 1142, height: 906, background: '#fff', fontFamily: FONT }}>
      <ComposedChart width={1142} height={906} data={rows} margin={{ top: 8, right: 67, bottom: 0, left: 0 }}>
        <XAxis type="number" dataKey="year" domain={[1900, 2100]} ticks={X_TICKS} allowDataOverflow axisLine={false} tickLine={false} height={36} tick={<XTick />} interval={0} />
        <YAxis type="number" domain={[-30.1, 28.1]} ticks={Y_TICKS} allowDataOverflow axisLine={false} tickLine={false} width={83} tick={<YTick />} interval={0} />
        {seasonSeries('s')}
        {seasonSeries('w')}
      </ComposedChart>

      {/* plot frame */}
      <div style={{ position: 'absolute', left: 83, top: 7, width: 991, height: 862, border: '1.5px solid #7a7a7a', pointerEvents: 'none' }} />

      {/* y axis title */}
      <div style={{ position: 'absolute', left: 28 - 170, top: 422 - 14, width: 340, height: 28, lineHeight: '28px', textAlign: 'center', transform: 'rotate(-90deg)', fontSize: 23, color: '#111' }}>
        Mean temperature (°C)
      </div>

      {/* legend: historical */}
      {txt(150, 25, 'Historical Period', { fontSize: 21.5, color: '#111' })}
      <div style={{ position: 'absolute', left: 88, top: 60, width: 42, height: 3, background: OBS_BLUE }} />
      {txt(150, 62, 'Station observations', { fontSize: 21.5, color: '#111' })}
      <div style={{ position: 'absolute', left: 101, top: 79, width: 17, height: 17, background: '#a0a0a0' }} />
      {txt(150, 87, 'Simulations (13GCMs)', { fontSize: 21.5, color: '#111' })}

      {/* legend: future */}
      {txt(497, 25, 'Future Scenarios', { fontSize: 21.5, color: '#111' })}
      {LEGEND_SWATCHES.map((s, i) => (
        <React.Fragment key={s.name}>
          <div style={{ position: 'absolute', left: 511, top: 62 + i * 25.7 - 9, width: 18, height: 18, background: s.color }} />
          {txt(560, 62 + i * 25.7, s.name, { fontSize: 21.5, color: '#111' })}
        </React.Fragment>
      ))}

      {/* season labels */}
      {txt(115, 202, 'Summer', { fontSize: 21, fontWeight: 'bold', color: '#111' })}
      {txt(125, 475, 'Winter', { fontSize: 21, fontWeight: 'bold', color: '#111' })}
      {txt(683, 256, '+0.2C', { fontSize: 20, fontWeight: 'bold', color: OBS_BLUE })}
      {txt(683, 548, '+2.2C', { fontSize: 20, fontWeight: 'bold', color: OBS_BLUE })}

      {SUMMER_CHANGE.concat(WINTER_CHANGE).map((l, i) => (
        <React.Fragment key={i}>{txt(1079, l.y, l.text, { fontSize: 18, fontWeight: 'bold', color: l.color })}</React.Fragment>
      ))}

      {/* credits */}
      {txt(92, 814, 'Created using https://bcgov-env.shinyapps.io/cmip6-BC', { fontSize: 15.5, color: '#bdbdbd' })}
      {txt(92, 832, 'Copyright 2021 Province of BC', { fontSize: 15.5, color: '#bdbdbd' })}
      {txt(92, 851, 'Contact: Colin Mahony colin.mahony@gov.bc.ca', { fontSize: 15.5, color: '#bdbdbd' })}
      {txt(836, 847, 'Sub-Boreal Interior', { fontSize: 21.5, fontWeight: 'bold', color: '#111' })}
    </div>
  );
}
